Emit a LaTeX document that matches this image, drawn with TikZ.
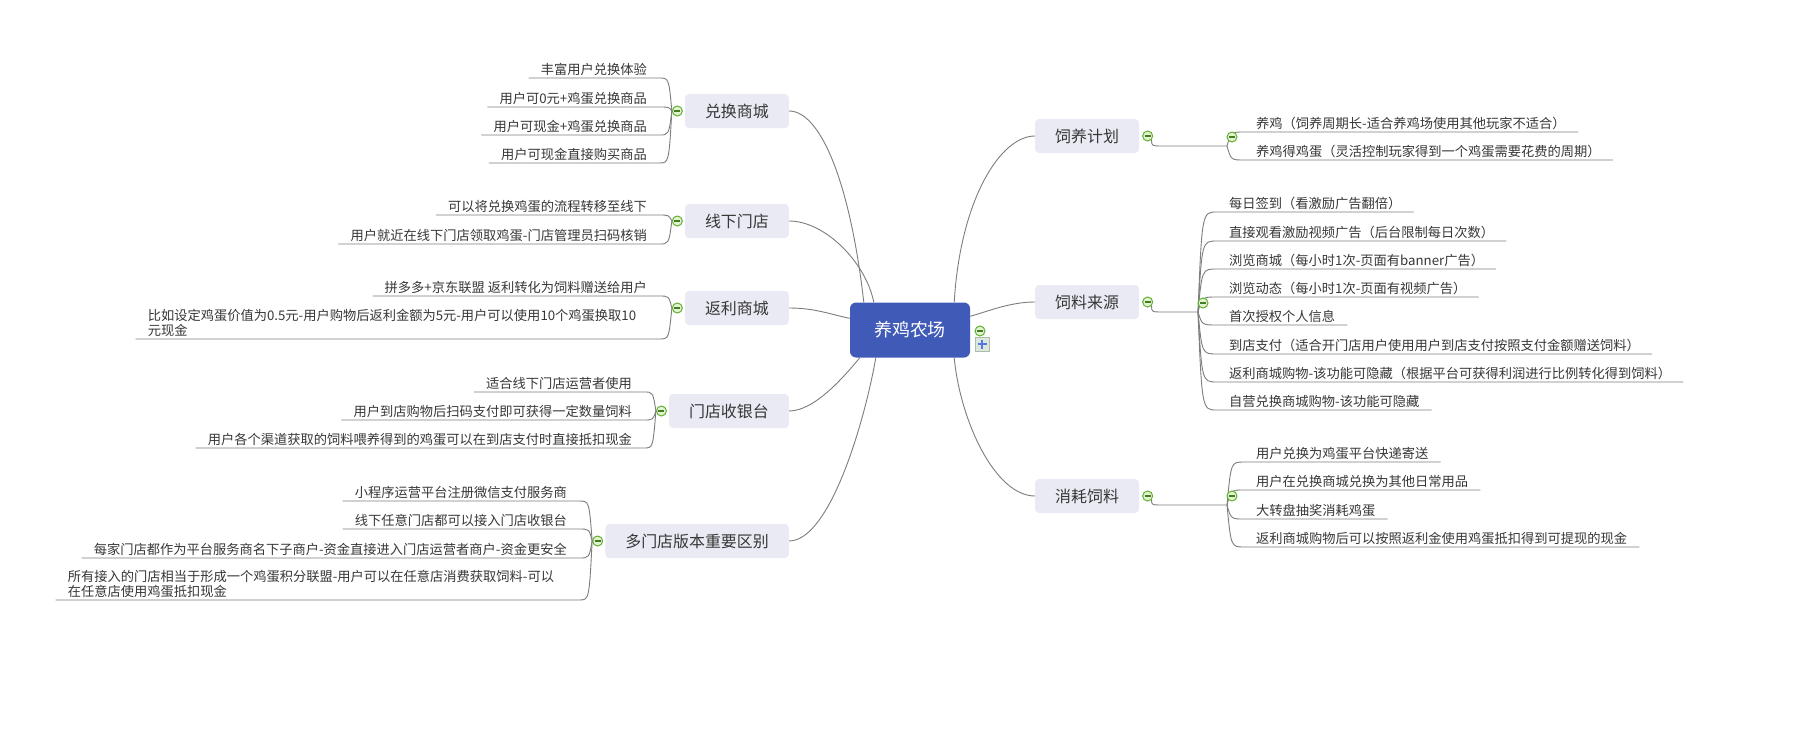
\documentclass[tikz,border=0pt]{standalone}
\usepackage{fontspec}
\setmainfont{Noto Sans CJK SC}
\usetikzlibrary{positioning, calc}
\definecolor{rootBlue}{RGB}{64,91,183}
\definecolor{topicFill}{RGB}{233,234,243}
\definecolor{lineGray}{RGB}{125,125,125}
\definecolor{inkDark}{RGB}{55,55,55}
\definecolor{foldGreen}{RGB}{98,176,48}
\definecolor{foldFill}{RGB}{226,243,210}
\definecolor{plusBlue}{RGB}{84,122,226}
\definecolor{plusFill}{RGB}{221,231,221}
\definecolor{plusBorder}{RGB}{170,190,170}

\tikzset{
  rootbox/.style={fill=rootBlue, text=white, rounded corners=6bp, minimum width=120bp,
    minimum height=55bp, inner sep=0pt, font=\fontsize{18}{22}\selectfont},
  topicbox/.style={fill=topicFill, text=inkDark, rounded corners=4bp, minimum height=34bp,
    inner xsep=20bp, inner ysep=0pt, font=\fontsize{16}{19}\selectfont},
  leafbox/.style={text=inkDark, inner xsep=12bp, inner ysep=2bp, align=left,
    font=\fontsize{13.3}{15}\selectfont},
  fold/.style={circle, draw=foldGreen, fill=foldFill, line width=1bp, minimum size=10bp,
    inner sep=0pt, path picture={\draw[foldGreen!70!black, line width=1.4bp]
      ([xshift=-3bp]path picture bounding box.center) --
      ([xshift=3bp]path picture bounding box.center);}},
  plusbox/.style={draw=plusBorder, fill=plusFill, minimum size=14bp, inner sep=0pt,
    path picture={\draw[plusBlue, line width=2.4bp]
      ([xshift=-4.5bp]path picture bounding box.center) --
      ([xshift=4.5bp]path picture bounding box.center)
      ([yshift=-4.5bp]path picture bounding box.center) --
      ([yshift=4.5bp]path picture bounding box.center);}},
  branch/.style={lineGray, line width=0.9bp},
}

\begin{document}
\begin{tikzpicture}[x=1bp, y=-1bp]
  \fill[white] (0,0) rectangle (1803,751);
  \useasboundingbox (0,0) rectangle (1803,751);

  % centre and main topics
  \node[rootbox] (farm) at (910,330) {养鸡农场};
  \node[topicbox, anchor=east] (dhsc) at (789,111) {兑换商城};
  \node[topicbox, anchor=east] (xxmd) at (789,221) {线下门店};
  \node[topicbox, anchor=east] (flsc) at (789,308) {返利商城};
  \node[topicbox, anchor=east] (mdsyt) at (789,411) {门店收银台};
  \node[topicbox, anchor=east] (dmd) at (789,541) {多门店版本重要区别};
  \node[topicbox, anchor=west] (syjh) at (1035,136) {饲养计划};
  \node[topicbox, anchor=west] (slly) at (1035,302) {饲料来源};
  \node[topicbox, anchor=west] (xhsl) at (1035,496) {消耗饲料};

  \draw[branch] (dhsc.east) .. controls +(31,0) and +(-14,-122) .. ([xshift=14bp]farm.north west);
  \draw[branch] (xxmd.east) .. controls +(36,0) and +(-8,-40) .. ([xshift=24bp]farm.north west);
  \draw[branch] (flsc.east) .. controls +(26,0) and +(-20,-4) .. ([yshift=-16bp]farm.north west);
  \draw[branch] (mdsyt.east) .. controls +(26,0) and +(-15,18) .. ([xshift=10bp]farm.south west);
  \draw[branch] (dmd.east) .. controls +(41,0) and +(-11,63) .. ([xshift=26bp]farm.south west);
  \draw[branch] (syjh.west) .. controls +(-35,0) and +(6,-102) .. ([xshift=-16bp]farm.north east);
  \draw[branch] (slly.west) .. controls +(-25,0) and +(18,-5) .. ([yshift=-14bp]farm.north east);
  \draw[branch] (xhsl.west) .. controls +(-40,0) and +(6,63) .. ([xshift=-16bp]farm.south east);

  \node[fold] (farmF) at (980,331) {};
  \node[plusbox] (farmP) at (982,344) {};

  % left side
  \node[fold, left=2bp of dhsc] (dhscF) {};
  \foreach \y/\txt [count=\i] in {78/丰富用户兑换体验, 107/用户可0元+鸡蛋兑换商品,
      135/用户可现金+鸡蛋兑换商品, 163/用户可现金直接购买商品} {
    \node[leafbox, anchor=south east] (dhsc\i) at (659,\y) {\txt};
    \draw[branch] (dhsc\i.south west) -- (dhsc\i.south east)
      .. controls ($(dhscF.west |- dhsc\i.south east)+(-3,0)$) .. (dhscF.west);
  }

  \node[fold, left=2bp of xxmd] (xxmdF) {};
  \foreach \y/\txt [count=\i] in {215/可以将兑换鸡蛋的流程转移至线下,
      244/用户就近在线下门店领取鸡蛋-门店管理员扫码核销} {
    \node[leafbox, anchor=south east] (xxmd\i) at (659,\y) {\txt};
    \draw[branch] (xxmd\i.south west) -- (xxmd\i.south east)
      .. controls ($(xxmdF.west |- xxmd\i.south east)+(-3,0)$) .. (xxmdF.west);
  }

  \node[fold, left=2bp of flsc] (flscF) {};
  \node[leafbox, anchor=south east] (flsc1) at (659,296) {拼多多+京东联盟 返利转化为饲料赠送给用户};
  \node[leafbox, anchor=south east, text width=499bp] (flsc2) at (659,339)
    {比如设定鸡蛋价值为0.5元-用户购物后返利金额为5元-用户可以使用10个鸡蛋换取10\\元现金};
  \foreach \i in {1,2} {
    \draw[branch] (flsc\i.south west) -- (flsc\i.south east)
      .. controls ($(flscF.west |- flsc\i.south east)+(-3,0)$) .. (flscF.west);
  }

  \node[fold, left=2bp of mdsyt] (mdsytF) {};
  \foreach \y/\txt [count=\i] in {392/适合线下门店运营者使用,
      420/用户到店购物后扫码支付即可获得一定数量饲料,
      448/用户各个渠道获取的饲料喂养得到的鸡蛋可以在到店支付时直接抵扣现金} {
    \node[leafbox, anchor=south east] (mdsyt\i) at (644,\y) {\txt};
    \draw[branch] (mdsyt\i.south west) -- (mdsyt\i.south east)
      .. controls ($(mdsytF.west |- mdsyt\i.south east)+(-3,0)$) .. (mdsytF.west);
  }

  \node[fold, left=2bp of dmd] (dmdF) {};
  \foreach \y/\txt [count=\i] in {501/小程序运营平台注册微信支付服务商,
      529/线下任意门店都可以接入门店收银台,
      558/每家门店都作为平台服务商名下子商户-资金直接进入门店运营者商户-资金更安全} {
    \node[leafbox, anchor=south east] (dmd\i) at (579,\y) {\txt};
  }
  \node[leafbox, anchor=south east, text width=499bp] (dmd4) at (579,600)
    {所有接入的门店相当于形成一个鸡蛋积分联盟-用户可以在任意店消费获取饲料-可以\\在任意店使用鸡蛋抵扣现金};
  \foreach \i in {1,...,4} {
    \draw[branch] (dmd\i.south west) -- (dmd\i.south east)
      .. controls ($(dmdF.west |- dmd\i.south east)+(-3,0)$) .. (dmdF.west);
  }

  % right side
  \node[fold, right=3bp of syjh] (syjhF) {};
  \coordinate (syjhJ) at (1227,146);
  \draw[branch] (syjhF.south east) .. controls ($(syjhF.south east |- syjhJ)$)
    .. ($(syjhF.south east |- syjhJ)+(12,0)$) -- (syjhJ);
  \foreach \y/\txt [count=\i] in {132/养鸡（饲养周期长-适合养鸡场使用其他玩家不适合）,
      160/养鸡得鸡蛋（灵活控制玩家得到一个鸡蛋需要花费的周期）} {
    \node[leafbox, anchor=south west] (syjh\i) at (1244,\y) {\txt};
    \draw[branch] (syjhJ) .. controls ($(syjhJ |- syjh\i.south west)+(4,0)$)
      .. (syjh\i.south west) -- (syjh\i.south east);
  }
  \node[fold] (syjhG) at (1232,137) {};

  \node[fold, right=3bp of slly] (sllyF) {};
  \coordinate (sllyJ) at (1198,312);
  \draw[branch] (sllyF.south east) .. controls ($(sllyF.south east |- sllyJ)$)
    .. ($(sllyF.south east |- sllyJ)+(12,0)$) -- (sllyJ);
  \foreach \y/\txt [count=\i] in {212/每日签到（看激励广告翻倍）,
      241/直接观看激励视频广告（后台限制每日次数）,
      269/浏览商城（每小时1次-页面有banner广告）,
      297/浏览动态（每小时1次-页面有视频广告）,
      325/首次授权个人信息,
      354/到店支付（适合开门店用户使用用户到店支付按照支付金额赠送饲料）,
      382/返利商城购物-该功能可隐藏（根据平台可获得利润进行比例转化得到饲料）,
      410/自营兑换商城购物-该功能可隐藏} {
    \node[leafbox, anchor=south west] (slly\i) at (1217,\y) {\txt};
    \draw[branch] (sllyJ) .. controls ($(sllyJ |- slly\i.south west)+(4,0)$)
      .. (slly\i.south west) -- (slly\i.south east);
  }
  \node[fold] (sllyG) at (1203,303) {};

  \node[fold, right=3bp of xhsl] (xhslF) {};
  \coordinate (xhslJ) at (1227,505);
  \draw[branch] (xhslF.south east) .. controls ($(xhslF.south east |- xhslJ)$)
    .. ($(xhslF.south east |- xhslJ)+(12,0)$) -- (xhslJ);
  \foreach \y/\txt [count=\i] in {462/用户兑换为鸡蛋平台快递寄送,
      490/用户在兑换商城兑换为其他日常用品,
      519/大转盘抽奖消耗鸡蛋,
      547/返利商城购物后可以按照返利金使用鸡蛋抵扣得到可提现的现金} {
    \node[leafbox, anchor=south west] (xhsl\i) at (1244,\y) {\txt};
    \draw[branch] (xhslJ) .. controls ($(xhslJ |- xhsl\i.south west)+(4,0)$)
      .. (xhsl\i.south west) -- (xhsl\i.south east);
  }
  \node[fold] (xhslG) at (1232,496) {};
\end{tikzpicture}
\end{document}
